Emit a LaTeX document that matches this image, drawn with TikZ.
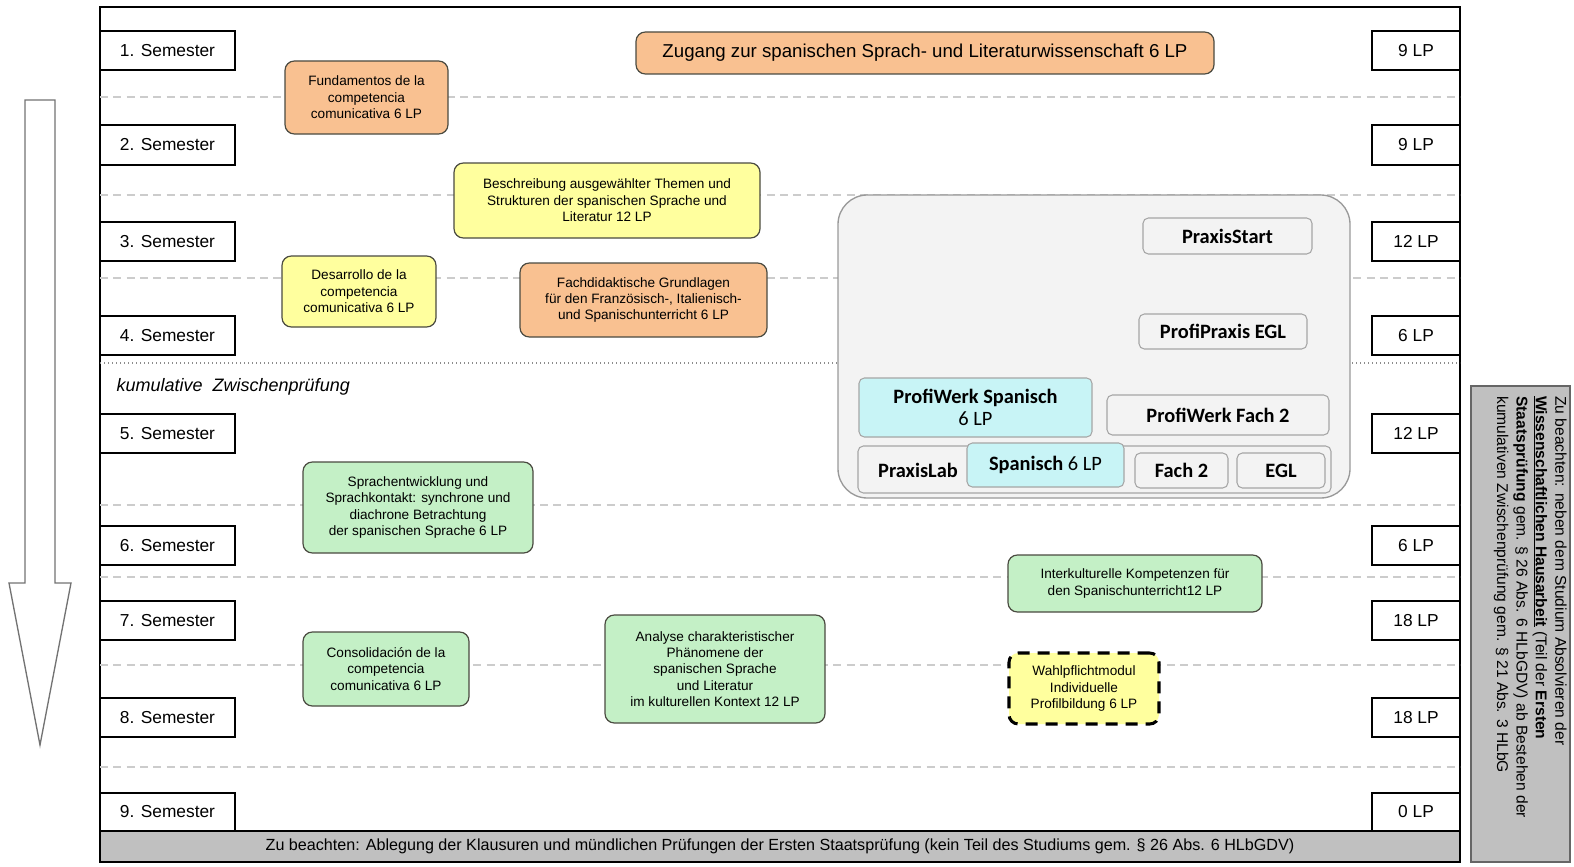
\documentclass[tikz,border=0pt]{standalone}
\usepackage{fontspec}
\setmainfont{Liberation Sans}
\newfontfamily\carl{Carlito}
\definecolor{orng}{HTML}{F9C191}
\definecolor{yel}{HTML}{FFFF9E}
\definecolor{grn}{HTML}{C4F0C6}
\definecolor{cyn}{HTML}{C8F4F6}
\definecolor{pgray}{HTML}{F3F3F3}
\definecolor{bargray}{HTML}{C0C0C0}
\definecolor{modline}{HTML}{4A4A40}
\newcommand\bx[7]{\node[#2, minimum width={0.75pt*(#5-#3)}, minimum height={0.75pt*(#6-#4)}] (#1) at ({(#3+#5)/2},{(#4+#6)/2}) {#7};}
\tikzset{
  sem/.style={draw=black, line width=1.1pt, fill=white, inner sep=0pt, font=\fontsize{13}{15}\selectfont},
  mod/.style={draw=modline, line width=0.9pt, rounded corners=7pt, inner sep=0pt, align=center, font=\fontsize{10.2}{12.3}\selectfont},
  omod/.style={mod, fill=orng},
  ymod/.style={mod, fill=yel},
  gmod/.style={mod, fill=grn},
  pbox/.style={draw=black!35, line width=0.8pt, fill=pgray, rounded corners=4pt, inner sep=0pt, align=center, font=\carl\fontsize{15.3}{16.5}\selectfont},
  cbox/.style={pbox, fill=cyn},
  dashline/.style={draw=black!20, line width=0.8pt, dash pattern=on 6pt off 4pt},
}
\begin{document}
\begin{tikzpicture}[x=0.75pt,y=-0.75pt]
\useasboundingbox (0,0) rectangle (1574,867);
% arrow
\draw[draw=black!55, line width=1pt, fill=white] (25,100) -- (55,100) -- (55,583) -- (71,583) -- (40,745) -- (9,583) -- (25,583) -- cycle;
% frame
\draw[line width=1.1pt] (100,7) rectangle (1460,862);
% guide lines
\foreach \y in {97,195,278,505,577,665,767} \draw[dashline] (100,\y) -- (1460,\y);
\draw[draw=black!45, line width=1pt, dotted] (100,363) -- (1460,363);
\node[anchor=west, font=\itshape\fontsize{13.5}{15}\selectfont] (kz) at (112,387) {kumulative\ \ Zwischenprüfung};
% semesters
\foreach \i/\a/\b/\lp in {1/31/70/9 LP, 2/125/165/9 LP, 3/222/261/12 LP, 4/316/355/6 LP, 5/414/453/12 LP, 6/526/565/6 LP, 7/601/640/18 LP, 8/698/737/18 LP, 9/793/831/0 LP}{
  \bx{s\i}{sem}{100}{\a}{235}{\b}{\i. Semester}
  \bx{l\i}{sem}{1372}{\a}{1460}{\b}{\lp}
}
% bottom bar
\bx{bar}{draw=black, line width=1.1pt, fill=bargray, inner sep=0pt, font=\fontsize{12.1}{13}\selectfont}{100}{831}{1460}{862}{Zu beachten: Ablegung der Klausuren und mündlichen Prüfungen der Ersten Staatsprüfung (kein Teil des Studiums gem. § 26 Abs. 6 HLbGDV)}
% right note
\bx{note}{draw=black!60, line width=1pt, fill=bargray, inner sep=0pt}{1471}{386}{1570}{862}{}
\node[rotate=-90, anchor=north west, align=left, inner sep=0pt, font=\fontsize{11.7}{14.6}\selectfont] (notetext) at (1567,396) {Zu beachten: neben dem Studium Absolvieren der\\ \underline{\textbf{Wissenschaftlichen Hausarbeit}} (Teil der \textbf{Ersten}\\ \textbf{Staatsprüfung} gem. § 26 Abs. 6 HLbGDV) ab Bestehen der\\ kumulativen Zwischenprüfung gem. § 21 Abs. 3 HLbG};
% modules
\bx{zug}{omod, font=\fontsize{14}{16}\selectfont}{636}{32}{1214}{74}{Zugang zur spanischen Sprach- und Literaturwissenschaft 6 LP}
\bx{fund}{omod}{285}{61}{448}{134}{Fundamentos de la\\competencia\\comunicativa 6 LP}
\bx{besch}{ymod}{454}{163}{760}{238}{Beschreibung ausgewählter Themen und\\Strukturen der spanischen Sprache und\\Literatur 12 LP}
\bx{fach}{omod}{520}{263}{767}{337}{Fachdidaktische Grundlagen\\für den Französisch-, Italienisch-\\und Spanischunterricht 6 LP}
\bx{desa}{ymod}{282}{256}{436}{327}{Desarrollo de la\\competencia\\comunicativa 6 LP}
\bx{sprach}{gmod}{303}{462}{533}{553}{Sprachentwicklung und\\Sprachkontakt: synchrone und\\diachrone Betrachtung\\der spanischen Sprache 6 LP}
\bx{cons}{gmod}{303}{632}{469}{706}{Consolidación de la\\competencia\\comunicativa 6 LP}
\bx{anal}{gmod}{605}{615}{825}{723}{Analyse charakteristischer\\Phänomene der\\spanischen Sprache\\und Literatur\\im kulturellen Kontext 12 LP}
\bx{inter}{gmod}{1008}{555}{1262}{612}{Interkulturelle Kompetenzen für\\den Spanischunterricht12 LP}
\bx{wahl}{ymod, draw=black, line width=2.3pt, dash pattern=on 9pt off 6pt}{1009}{653}{1159}{724}{Wahlpflichtmodul\\Individuelle\\Profilbildung 6 LP}
% praxis
\bx{praxis}{draw=black!40, line width=1pt, fill=pgray, rounded corners=22pt}{838}{195}{1350}{498}{}
\bx{pstart}{pbox}{1143}{218}{1312}{254}{\textbf{PraxisStart}}
\bx{ppegl}{pbox}{1139}{314}{1307}{349}{\textbf{ProfiPraxis EGL}}
\bx{pwsp}{cbox}{859}{378}{1092}{437}{\textbf{ProfiWerk Spanisch}\\6 LP}
\bx{pwf2}{pbox}{1107}{395}{1329}{435}{\textbf{ProfiWerk Fach 2}}
\bx{plab}{pbox}{858}{446}{1331}{493}{}
\node[font=\carl\bfseries\fontsize{15.3}{16.5}\selectfont] (plabt) at (918,470) {PraxisLab};
\bx{plsp}{cbox}{967}{443}{1124}{487}{\textbf{Spanisch} 6 LP}
\bx{plf2}{pbox}{1135}{453}{1228}{488}{\textbf{Fach 2}}
\bx{plegl}{pbox}{1237}{453}{1325}{488}{\textbf{EGL}}
\end{tikzpicture}
\end{document}
